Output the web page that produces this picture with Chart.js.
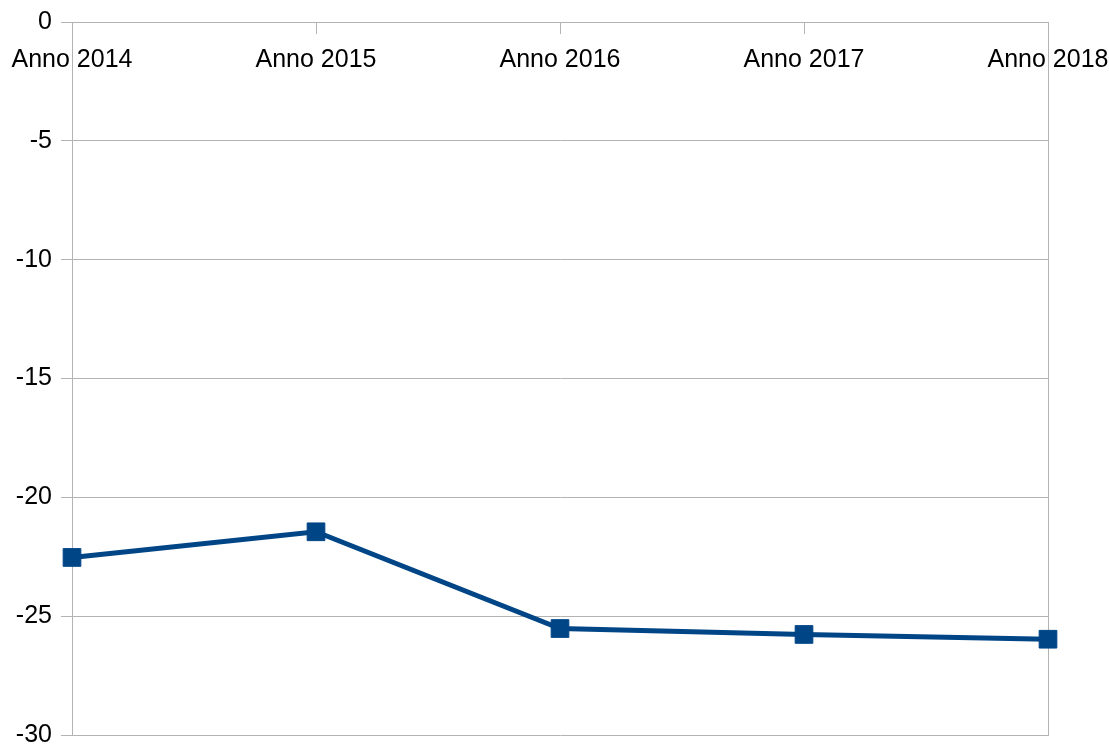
<!DOCTYPE html>
<html>
<head>
<meta charset="utf-8">
<script src="https://cdn.jsdelivr.net/npm/chart.js@4/dist/chart.umd.min.js"></script>
<style>
  html, body { margin: 0; padding: 0; background: #fff; }
  #wrap { width: 1109px; height: 747px; }
</style>
</head>
<body>
<div id="wrap"><canvas id="chart"></canvas></div>
<script>
const categories = ["Anno 2014", "Anno 2015", "Anno 2016", "Anno 2017", "Anno 2018"];
const values = [-22.53, -21.45, -25.52, -25.77, -25.97];
const yMin = -30;
const yMax = 0;
const yStep = 5;

const gridColor = "#b3b3b3";
const lineColor = "#004586";
const font = { family: "'Liberation Sans', Arial, sans-serif", size: 25, lineHeight: 1 };

// keep the plot box where the original has it, labels may overhang
function noPadding(scale) {
  scale.paddingLeft = 0;
  scale.paddingRight = 0;
  scale.paddingTop = 0;
  scale.paddingBottom = 0;
}

const ctx = document.getElementById("chart").getContext("2d");
new Chart(ctx, {
  type: "line",
  data: {
    labels: categories,
    datasets: [
      {
        data: values,
        borderColor: lineColor,
        backgroundColor: lineColor,
        borderWidth: 5,
        pointStyle: "rect",
        pointRadius: 12.5,
        pointBorderWidth: 1,
        pointHoverRadius: 12.5,
        tension: 0,
        clip: false,
      },
    ],
  },
  options: {
    responsive: true,
    maintainAspectRatio: false,
    animation: false,
    layout: { autoPadding: false, padding: { left: 16, right: 61, top: 22, bottom: 12 } },
    plugins: {
      legend: { display: false },
      tooltip: { enabled: false },
    },
    scales: {
      x: {
        position: { y: 0 },
        offset: false,
        afterFit: noPadding,
        grid: {
          drawOnChartArea: false,
          drawTicks: true,
          tickLength: 11,
          color: gridColor,
        },
        border: { color: gridColor },
        ticks: { color: "#000", font: font, padding: 15, maxRotation: 0, autoSkip: false },
      },
      y: {
        min: yMin,
        max: yMax,
        afterFit: (scale) => {
          noPadding(scale);
          scale.width = 56;
        },
        ticks: { stepSize: yStep, color: "#000", font: font, padding: 9 },
        grid: { color: gridColor, tickLength: 11 },
        border: { color: gridColor },
      },
      y2: {
        position: "right",
        min: yMin,
        max: yMax,
        afterFit: (scale) => {
          noPadding(scale);
          scale.width = 0;
        },
        ticks: { display: false },
        grid: { drawOnChartArea: false, drawTicks: false },
        border: { color: gridColor },
      },
    },
  },
});
</script>
</body>
</html>
